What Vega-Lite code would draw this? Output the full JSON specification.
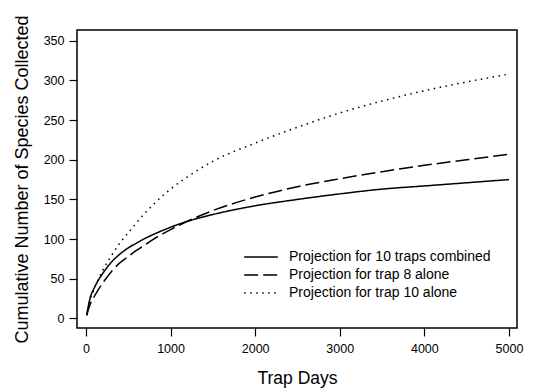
{
  "$schema": "https://vega.github.io/schema/vega-lite/v6.json",
  "width": 440,
  "height": 298,
  "autosize": "none",
  "padding": {"left": 77, "top": 30, "right": 18, "bottom": 64},
  "background": "white",
  "config": {
    "font": "Liberation Sans",
    "view": {"stroke": "black", "strokeWidth": 1.5},
    "axis": {
      "domain": false,
      "grid": false,
      "tickColor": "black",
      "tickSize": 8,
      "tickWidth": 1.2,
      "labelColor": "black",
      "labelFontSize": 12.5,
      "labelFont": "Liberation Sans",
      "titleColor": "black",
      "titleFontSize": 17.5,
      "titleFontWeight": "normal",
      "titleFont": "Liberation Sans"
    }
  },
  "data": {
    "values": [
      {"days": 10, "species": 5, "series": "Projection for 10 traps combined"},
      {"days": 25, "species": 14, "series": "Projection for 10 traps combined"},
      {"days": 50, "species": 26, "series": "Projection for 10 traps combined"},
      {"days": 100, "species": 39, "series": "Projection for 10 traps combined"},
      {"days": 150, "species": 49, "series": "Projection for 10 traps combined"},
      {"days": 200, "species": 57, "series": "Projection for 10 traps combined"},
      {"days": 300, "species": 71, "series": "Projection for 10 traps combined"},
      {"days": 400, "species": 81, "series": "Projection for 10 traps combined"},
      {"days": 500, "species": 89, "series": "Projection for 10 traps combined"},
      {"days": 600, "species": 95, "series": "Projection for 10 traps combined"},
      {"days": 700, "species": 101, "series": "Projection for 10 traps combined"},
      {"days": 800, "species": 106, "series": "Projection for 10 traps combined"},
      {"days": 1000, "species": 115, "series": "Projection for 10 traps combined"},
      {"days": 1250, "species": 124, "series": "Projection for 10 traps combined"},
      {"days": 1500, "species": 131, "series": "Projection for 10 traps combined"},
      {"days": 2000, "species": 142, "series": "Projection for 10 traps combined"},
      {"days": 2500, "species": 150, "series": "Projection for 10 traps combined"},
      {"days": 3000, "species": 157, "series": "Projection for 10 traps combined"},
      {"days": 3500, "species": 163, "series": "Projection for 10 traps combined"},
      {"days": 4000, "species": 167, "series": "Projection for 10 traps combined"},
      {"days": 4500, "species": 171, "series": "Projection for 10 traps combined"},
      {"days": 5000, "species": 175, "series": "Projection for 10 traps combined"},

      {"days": 10, "species": 4, "series": "Projection for trap 8 alone"},
      {"days": 25, "species": 10, "series": "Projection for trap 8 alone"},
      {"days": 50, "species": 18, "series": "Projection for trap 8 alone"},
      {"days": 100, "species": 28, "series": "Projection for trap 8 alone"},
      {"days": 150, "species": 37, "series": "Projection for trap 8 alone"},
      {"days": 200, "species": 45, "series": "Projection for trap 8 alone"},
      {"days": 300, "species": 59, "series": "Projection for trap 8 alone"},
      {"days": 400, "species": 70, "series": "Projection for trap 8 alone"},
      {"days": 500, "species": 78, "series": "Projection for trap 8 alone"},
      {"days": 600, "species": 86, "series": "Projection for trap 8 alone"},
      {"days": 700, "species": 93, "series": "Projection for trap 8 alone"},
      {"days": 800, "species": 100, "series": "Projection for trap 8 alone"},
      {"days": 1000, "species": 112, "series": "Projection for trap 8 alone"},
      {"days": 1250, "species": 125, "series": "Projection for trap 8 alone"},
      {"days": 1500, "species": 136, "series": "Projection for trap 8 alone"},
      {"days": 2000, "species": 153, "series": "Projection for trap 8 alone"},
      {"days": 2500, "species": 166, "series": "Projection for trap 8 alone"},
      {"days": 3000, "species": 176, "series": "Projection for trap 8 alone"},
      {"days": 3500, "species": 185, "series": "Projection for trap 8 alone"},
      {"days": 4000, "species": 193, "series": "Projection for trap 8 alone"},
      {"days": 4500, "species": 200, "series": "Projection for trap 8 alone"},
      {"days": 5000, "species": 207, "series": "Projection for trap 8 alone"},

      {"days": 10, "species": 4, "series": "Projection for trap 10 alone"},
      {"days": 25, "species": 13, "series": "Projection for trap 10 alone"},
      {"days": 50, "species": 24, "series": "Projection for trap 10 alone"},
      {"days": 100, "species": 38, "series": "Projection for trap 10 alone"},
      {"days": 150, "species": 50, "series": "Projection for trap 10 alone"},
      {"days": 200, "species": 61, "series": "Projection for trap 10 alone"},
      {"days": 300, "species": 79, "series": "Projection for trap 10 alone"},
      {"days": 400, "species": 95, "series": "Projection for trap 10 alone"},
      {"days": 500, "species": 108, "series": "Projection for trap 10 alone"},
      {"days": 600, "species": 121, "series": "Projection for trap 10 alone"},
      {"days": 700, "species": 133, "series": "Projection for trap 10 alone"},
      {"days": 800, "species": 144, "series": "Projection for trap 10 alone"},
      {"days": 1000, "species": 163, "series": "Projection for trap 10 alone"},
      {"days": 1250, "species": 182, "series": "Projection for trap 10 alone"},
      {"days": 1500, "species": 198, "series": "Projection for trap 10 alone"},
      {"days": 2000, "species": 221, "series": "Projection for trap 10 alone"},
      {"days": 2500, "species": 241, "series": "Projection for trap 10 alone"},
      {"days": 3000, "species": 259, "series": "Projection for trap 10 alone"},
      {"days": 3500, "species": 274, "series": "Projection for trap 10 alone"},
      {"days": 4000, "species": 287, "series": "Projection for trap 10 alone"},
      {"days": 4500, "species": 298, "series": "Projection for trap 10 alone"},
      {"days": 5000, "species": 308, "series": "Projection for trap 10 alone"}
    ]
  },
  "mark": {"type": "line", "color": "black", "strokeWidth": 1.5, "interpolate": "monotone", "clip": true},
  "encoding": {
    "x": {
      "field": "days",
      "type": "quantitative",
      "scale": {"domain": [-106, 5095], "nice": false, "zero": false},
      "axis": {"values": [0, 1000, 2000, 3000, 4000, 5000], "format": "d", "title": "Trap Days", "labelPadding": 6, "titlePadding": 15}
    },
    "y": {
      "field": "species",
      "type": "quantitative",
      "scale": {"domain": [-12, 363.5], "nice": false, "zero": false},
      "axis": {"values": [0, 50, 100, 150, 200, 250, 300, 350], "format": "d", "title": "Cumulative Number of Species Collected", "labelPadding": 5, "titlePadding": 12, "titleFontSize": 18}
    },
    "strokeDash": {
      "field": "series",
      "type": "nominal",
      "sort": ["Projection for 10 traps combined", "Projection for trap 8 alone", "Projection for trap 10 alone"],
      "scale": {
        "domain": ["Projection for 10 traps combined", "Projection for trap 8 alone", "Projection for trap 10 alone"],
        "range": [[1, 0], [14, 5], [1.5, 4.5]]
      },
      "legend": {
        "title": null,
        "orient": "none",
        "legendX": 176,
        "legendY": 219,
        "symbolType": "M-2.4,0H2.4",
        "symbolSize": 196,
        "symbolStrokeColor": "black",
        "symbolStrokeWidth": 1.5,
        "labelFontSize": 14,
        "labelColor": "black",
        "labelOffset": 20,
        "rowPadding": 3,
        "labelLimit": 300
      }
    }
  }
}
